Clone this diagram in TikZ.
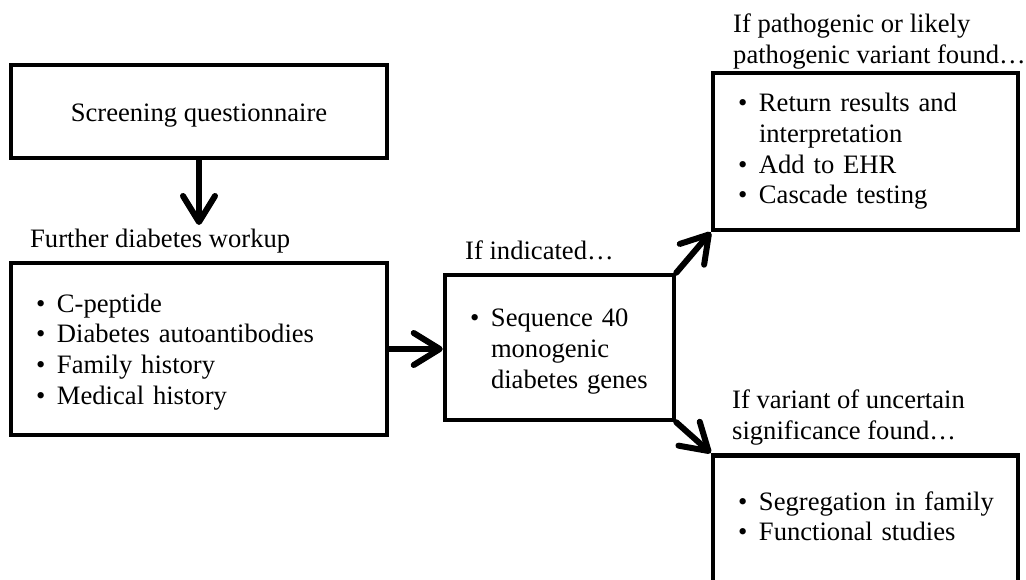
\documentclass[tikz,border=0pt]{standalone}
\usepackage{fontspec}
\setmainfont{Liberation Serif}
\usepackage{tikz}
\usetikzlibrary{arrows.meta}

\newcommand{\bitem}[1]{\makebox[21pt][l]{•}\mbox{#1}}
\newcommand{\bcont}[1]{\hspace*{21pt}\mbox{#1}}

\begin{document}
\begin{tikzpicture}[x=1pt,y=-1pt,
    font=\fontsize{26.6}{30.7}\selectfont,
    wbox/.style={draw, rectangle, line width=4.5pt, inner xsep=25pt, inner ysep=0pt, align=left},
    note/.style={inner sep=0pt, align=left},
    flow/.style={line width=6pt, line cap=round, -{Straight Barb[length=26pt,width=32pt,round]}}]
  \useasboundingbox (0,0) rectangle (1026,580);

  \node[draw, line width=4.5pt, minimum width=376pt, minimum height=93pt,
        text height=21pt, text depth=0pt] (screen) at (199,111.5) {Screening questionnaire};

  \node[note, anchor=base west] (workup) at (30,248) {Further diabetes workup};
  \node[wbox, text width=326pt, minimum width=376pt, minimum height=172pt] (workbox) at (199,349)
    {\bitem{\rule{0pt}{24pt}C-peptide}\\ \bitem{Diabetes autoantibodies}\\ \bitem{Family history}\\ \bitem{Medical history}};

  \node[note, anchor=base west] (indicated) at (465,260) {If indicated…};
  \node[wbox, text width=179pt, minimum width=229pt, minimum height=145pt] (seqbox) at (559.5,347.5)
    {\bitem{\rule{0pt}{26pt}Sequence 40}\\ \bcont{monogenic}\\ \bcont{diabetes genes}};

  \node[note, anchor=north west] (patho) at (733,13.8) {If pathogenic or likely\\pathogenic variant found…};
  \node[wbox, text width=255pt, minimum width=305pt, minimum height=157pt] (pathbox) at (865.5,151.5)
    {\bitem{Return results and}\\ \bcont{interpretation}\\ \bitem{Add to EHR}\\ \bitem{Cascade testing}};

  \node[note, anchor=north west] (vus) at (732,389.8) {If variant of uncertain\\significance found…};
  % box runs off the bottom of the page
  \node[wbox, text width=255pt, minimum width=305pt, anchor=north] (vusbox) at (865.5,453)
    {\bitem{\rule{0pt}{55pt}Segregation in family}\\ \bitem{Functional studies\rule[-90pt]{0pt}{90pt}}};

  \coordinate (downtip) at (199,225);
  \draw[flow] (screen.south) -- (downtip);
  \draw[flow] (workbox.east) -- (workbox.east -| seqbox.west);
  \draw[flow] (seqbox.north east) -- (pathbox.south west);
  \draw[flow] (seqbox.south east) -- (vusbox.north west);
\end{tikzpicture}
\end{document}
